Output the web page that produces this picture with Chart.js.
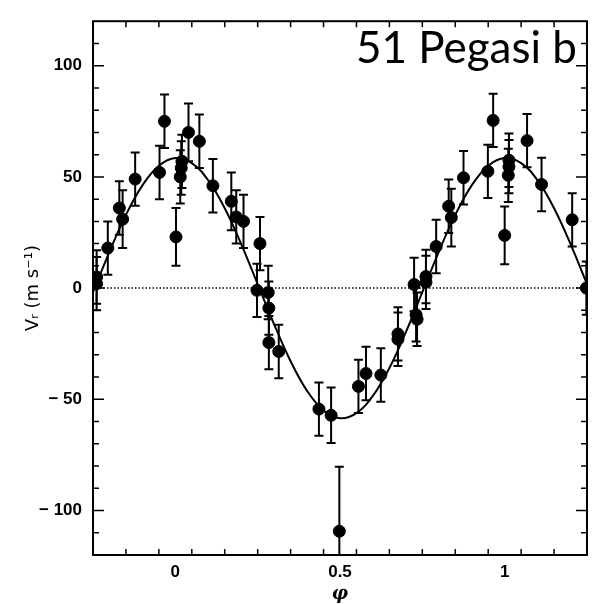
<!DOCTYPE html>
<html>
<head>
<meta charset="utf-8">
<script src="https://cdn.jsdelivr.net/npm/chart.js@4.4.1/dist/chart.umd.min.js"></script>
<style>
  html, body { margin: 0; padding: 0; background: #fff; }
  #wrap { position: relative; width: 594px; height: 604px; }
</style>
</head>
<body>
<div id="wrap"><canvas id="rv" width="594" height="604"></canvas></div>
<script>
// radial velocity points (phase, velocity in m/s, error bar half height)
const phase = [-0.239, -0.239, -0.205, -0.17, -0.16, -0.122, -0.048, -0.033,
  0.002, 0.015, 0.018, 0.02, 0.04, 0.073, 0.114, 0.17, 0.185, 0.207,
  0.248, 0.257, 0.282, 0.284, 0.284, 0.314, 0.436, 0.473, 0.498,
  0.556, 0.579, 0.624, 0.676, 0.676, 0.725, 0.731, 0.734, 0.761, 0.761,
  0.792, 0.83, 0.838, 0.875, 0.949, 0.965, 1.0, 1.011, 1.013, 1.013,
  1.068, 1.112, 1.205, 1.248];
const velocity = [5, 2, 18, 36, 31, 49, 52, 75,
  23, 50, 54, 57, 70, 66, 46, 39, 32, 30,
  -1, 20, -2, -9, -24.5, -28.5, -54.4, -57.2, -109.3,
  -44.2, -38.4, -39.1, -20.6, -23, 1.6, -12, -14, 5.2, 2.6,
  18.7, 36.8, 31.7, 49.6, 52.5, 75.4, 23.7, 50.7, 54.6, 57.5,
  66.3, 46.6, 30.7, 0];
const velErr = [12, 12, 12, 12, 13, 12, 12, 12,
  13, 12, 12, 12, 13, 12, 12, 13, 12, 12,
  12, 12, 12, 12, 12, 12, 12, 12.5, 29,
  12, 12, 12, 12, 12, 12, 12, 12, 12, 12,
  12, 12, 13, 12, 12, 12, 13, 12, 12, 12,
  12, 12, 12, 12];

// fitted orbit curve
const fitPhase = [-0.25, -0.2, -0.15, -0.1, -0.05, 0, 0.05, 0.1, 0.15, 0.2, 0.25,
  0.3, 0.35, 0.4, 0.45, 0.5, 0.55, 0.6, 0.65, 0.7, 0.75,
  0.8, 0.85, 0.9, 0.95, 1, 1.05, 1.1, 1.15, 1.2, 1.25];
const fitVelocity = [-1.8, 16.3, 32.9, 46.2, 55, 58.5, 56.2, 48.4, 35.9, 19.8, 1.8,
  -16.3, -32.9, -46.2, -55, -58.5, -56.2, -48.4, -35.9, -19.8, -1.8,
  16.3, 32.9, 46.2, 55, 58.5, 56.2, 48.4, 35.9, 19.8, 1.8];

const xMajor = [0, 0.5, 1];
const xMajorLabels = ['0', '0.5', '1'];
const yMajor = [-100, -50, 0, 50, 100];
const yMajorLabels = ['\u2212 100', '\u2212 50', '0', '50', '100'];

const findMajor = (list, v) => list.findIndex(m => Math.abs(m - v) < 1e-6);

// frame, inward ticks, error bars, x labels and the planet name
const framePlugin = {
  id: 'frame',
  beforeDatasetsDraw(chart) {
    const { ctx, chartArea: a, scales: { x, y } } = chart;
    ctx.save();
    ctx.beginPath();
    ctx.rect(a.left, a.top, a.right - a.left, a.bottom - a.top);
    ctx.clip();
    ctx.strokeStyle = '#000';
    ctx.lineWidth = 2;
    phase.forEach((p, i) => {
      const px = x.getPixelForValue(p);
      const top = y.getPixelForValue(velocity[i] + velErr[i]);
      const bot = y.getPixelForValue(velocity[i] - velErr[i]);
      ctx.beginPath();
      ctx.moveTo(px, top); ctx.lineTo(px, bot);
      ctx.moveTo(px - 4.5, top); ctx.lineTo(px + 4.5, top);
      ctx.moveTo(px - 4.5, bot); ctx.lineTo(px + 4.5, bot);
      ctx.stroke();
    });
    ctx.restore();
  },
  afterDraw(chart) {
    const { ctx, chartArea: a, scales: { x, y } } = chart;
    ctx.save();
    ctx.strokeStyle = '#000';
    ctx.lineWidth = 1.5;
    x.ticks.forEach(t => {
      const px = x.getPixelForValue(t.value);
      if (px <= a.left + 1 || px >= a.right - 1) return;
      const len = findMajor(xMajor, t.value) >= 0 ? 11 : 6;
      ctx.beginPath();
      ctx.moveTo(px, a.bottom); ctx.lineTo(px, a.bottom - len);
      ctx.moveTo(px, a.top); ctx.lineTo(px, a.top + len);
      ctx.stroke();
    });
    y.ticks.forEach(t => {
      const py = y.getPixelForValue(t.value);
      if (py <= a.top + 1 || py >= a.bottom - 1) return;
      const len = findMajor(yMajor, t.value) >= 0 ? 11 : 6;
      ctx.beginPath();
      ctx.moveTo(a.left, py); ctx.lineTo(a.left + len, py);
      ctx.moveTo(a.right, py); ctx.lineTo(a.right - len, py);
      ctx.stroke();
    });
    ctx.lineWidth = 2;
    ctx.strokeRect(a.left, a.top, a.right - a.left, a.bottom - a.top);

    ctx.fillStyle = '#000';
    ctx.font = 'bold 17px "Liberation Sans"';
    ctx.textAlign = 'center';
    ctx.textBaseline = 'top';
    xMajor.forEach((v, k) => {
      ctx.fillText(xMajorLabels[k], x.getPixelForValue(v), a.bottom + 9);
    });

    ctx.font = '44px Lato';
    ctx.textAlign = 'right';
    ctx.textBaseline = 'alphabetic';
    ctx.fillText('51 Pegasi b', 577, 63);
    ctx.restore();
  }
};

new Chart(document.getElementById('rv'), {
  type: 'scatter',
  data: {
    datasets: [
      {
        label: 'data',
        data: phase.map((p, i) => ({ x: p, y: velocity[i] })),
        backgroundColor: '#000',
        borderColor: '#000',
        pointRadius: 6,
        pointHoverRadius: 6,
        showLine: false
      },
      {
        label: 'fit',
        type: 'line',
        data: fitPhase.map((p, i) => ({ x: p, y: fitVelocity[i] })),
        borderColor: '#000',
        borderWidth: 2,
        pointRadius: 0,
        tension: 0.4,
        fill: false
      },
      {
        label: 'zero',
        type: 'line',
        data: [{ x: -0.25, y: 0 }, { x: 1.25, y: 0 }],
        borderColor: '#000',
        borderWidth: 1.5,
        borderDash: [1.5, 2],
        pointRadius: 0,
        fill: false
      }
    ]
  },
  options: {
    responsive: false,
    animation: false,
    devicePixelRatio: 1,
    layout: { padding: { top: 7, right: 2, left: 0, bottom: 0 } },
    plugins: { legend: { display: false }, tooltip: { enabled: false } },
    scales: {
      x: {
        type: 'linear',
        min: -0.25,
        max: 1.25,
        grid: { display: false, drawTicks: false },
        border: { display: false },
        afterFit: s => { s.height = 49; },
        ticks: { stepSize: 0.1, autoSkip: false, maxRotation: 0, display: false },
        title: {
          display: true,
          text: '\u03c6',
          color: '#000',
          padding: { top: 0, bottom: 1 },
          font: { family: 'DejaVu Serif', size: 18, weight: 'bold', style: 'italic', lineHeight: 1 }
        }
      },
      y: {
        type: 'linear',
        min: -120,
        max: 120,
        grid: { display: false, drawTicks: false },
        border: { display: false },
        afterFit: s => { s.width = 93; },
        ticks: {
          stepSize: 10,
          autoSkip: false,
          padding: 11,
          color: '#000',
          font: { family: 'Liberation Sans', size: 17, weight: 'bold' },
          callback: v => {
            const k = findMajor(yMajor, v);
            return k >= 0 ? yMajorLabels[k] : '';
          }
        },
        title: {
          display: true,
          text: 'V\u1d63 (m s\u207b\u00b9)',
          color: '#000',
          padding: { top: 23, bottom: 0 },
          font: { family: 'DejaVu Sans', size: 18, lineHeight: 1.2 }
        }
      }
    }
  },
  plugins: [framePlugin]
});
</script>
</body>
</html>
